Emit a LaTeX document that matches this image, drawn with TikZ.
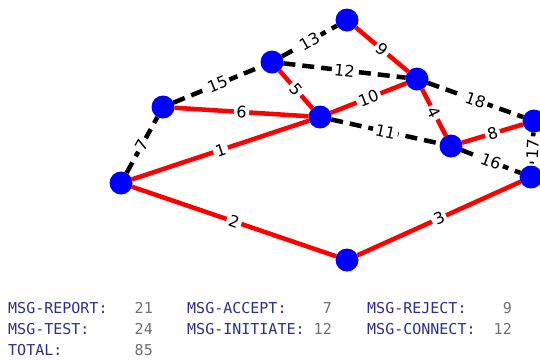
\documentclass[tikz,border=0pt]{standalone}
\usepackage{fontspec}
\setmainfont{DejaVu Sans}
\setmonofont{DejaVu Sans Mono}
\definecolor{msgname}{HTML}{2E2E8E}
\definecolor{msgcount}{HTML}{707070}
\tikzset{
  vertex/.style={circle,fill=blue,minimum size=23pt,inner sep=0pt,outer sep=0pt},
  tree edge/.style={red,line width=4.5pt},
  other edge/.style={black,line width=4.5pt,dash pattern=on 12pt off 7pt},
  weight/.style={fill=white,text=black,inner sep=2.5pt,sloped,font=\fontsize{16}{16}\selectfont},
  msgkey/.style={anchor=base west,inner sep=0pt,text=msgname,font=\ttfamily\fontsize{15}{15}\selectfont},
  msgval/.style={anchor=base east,inner sep=0pt,text=msgcount,font=\ttfamily\fontsize{15}{15}\selectfont},
}
\begin{document}
\begin{tikzpicture}[x=1pt,y=-1pt]
\useasboundingbox (0,0) rectangle (540,360);
% vertices
\node [vertex] (a) at (121,183) {};
\node [vertex] (b) at (163,107) {};
\node [vertex] (c) at (272,62) {};
\node [vertex] (d) at (347,20) {};
\node [vertex] (e) at (320,117) {};
\node [vertex] (f) at (417,79) {};
\node [vertex] (g) at (451,146) {};
\node [vertex] (h) at (534,121) {};
\node [vertex] (i) at (531,177) {};
\node [vertex] (j) at (347,260) {};
% edges
\draw [other edge] (a) -- node [weight]{7} (b);
\draw [other edge] (b) -- node [weight]{15} (c);
\draw [other edge] (c) -- node [weight]{13} (d);
\draw [other edge] (c) -- node [weight]{12} (f);
\draw [other edge] (e) -- node [weight]{11} (g);
\draw [other edge] (f) -- node [weight]{18} (h);
\draw [other edge] (g) -- node [weight]{16} (i);
\draw [other edge] (h) -- node [weight]{17} (i);
\draw [tree edge] (a) -- node [weight]{1} (e);
\draw [tree edge] (a) -- node [weight]{2} (j);
\draw [tree edge] (j) -- node [weight]{3} (i);
\draw [tree edge] (f) -- node [weight]{4} (g);
\draw [tree edge] (c) -- node [weight]{5} (e);
\draw [tree edge] (b) -- node [weight]{6} (e);
\draw [tree edge] (g) -- node [weight]{8} (h);
\draw [tree edge] (d) -- node [weight]{9} (f);
\draw [tree edge] (e) -- node [weight]{10} (f);
% message counts
\node [msgkey] (report) at (8,313) {MSG-REPORT:};
\node [msgval] (reportn) at (153,313) {21};
\node [msgkey] (accept) at (187,313) {MSG-ACCEPT:};
\node [msgval] (acceptn) at (332,313) {7};
\node [msgkey] (reject) at (367,313) {MSG-REJECT:};
\node [msgval] (rejectn) at (512,313) {9};
\node [msgkey] (test) at (8,334) {MSG-TEST:};
\node [msgval] (testn) at (153,334) {24};
\node [msgkey] (initiate) at (187,334) {MSG-INITIATE:};
\node [msgval] (initiaten) at (332,334) {12};
\node [msgkey] (connect) at (367,334) {MSG-CONNECT:};
\node [msgval] (connectn) at (512,334) {12};
\node [msgkey] (total) at (8,355) {TOTAL:};
\node [msgval] (totaln) at (153,355) {85};
\end{tikzpicture}
\end{document}
